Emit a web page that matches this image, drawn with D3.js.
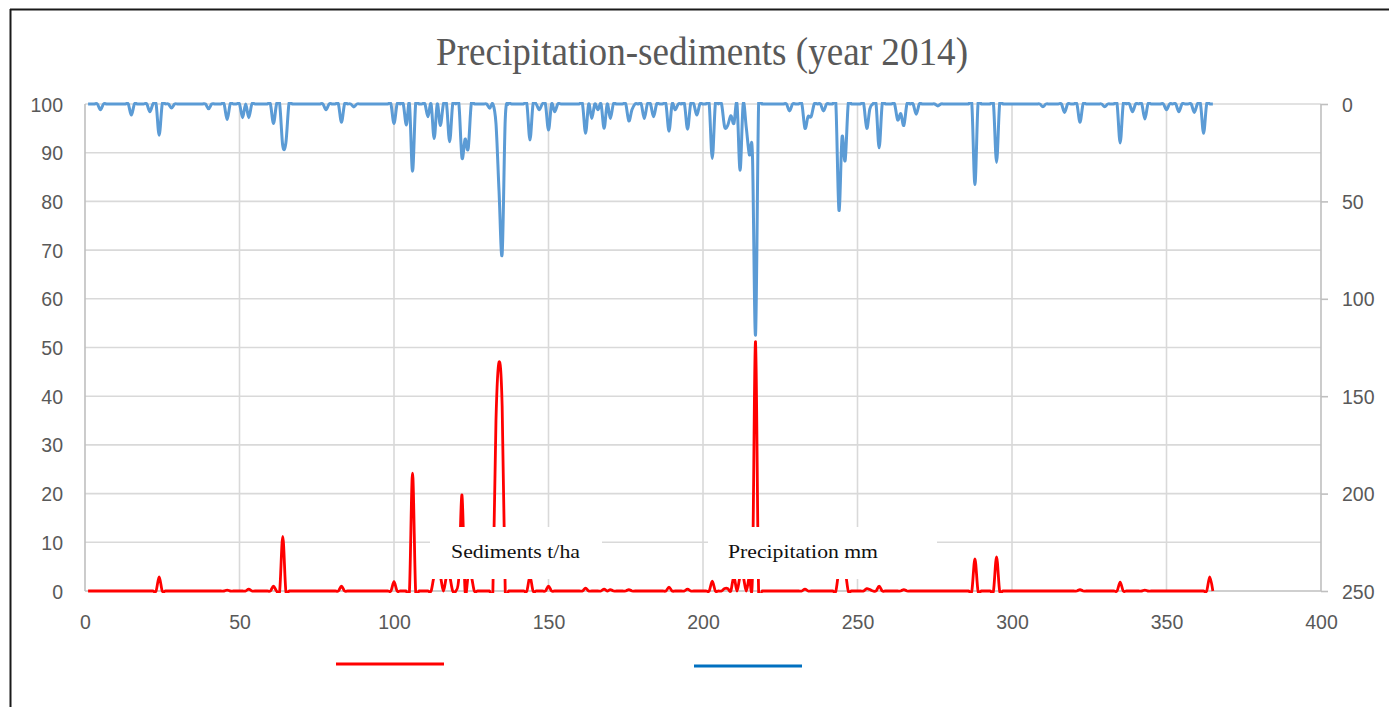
<!DOCTYPE html>
<html><head><meta charset="utf-8">
<script src="https://cdn.jsdelivr.net/npm/d3@7"></script>
<style>body{margin:0;background:#fff;} svg{display:block;}</style>
</head><body>
<svg id="chart" width="1389" height="707"></svg>
<script>
const chartTitle = "Precipitation-sediments  (year 2014)";
const seriesNames = ["Sediments t/ha", "Precipitation mm"];
const xTicks = [0, 50, 100, 150, 200, 250, 300, 350, 400];
const leftTicks = [0, 10, 20, 30, 40, 50, 60, 70, 80, 90, 100];
const rightTicks = [0, 50, 100, 150, 200, 250];
const firstDay = 1, lastDay = 365;

// sediments (t/ha), left axis — non-zero days only
const sedDays   = [24, 46, 53, 61, 64, 83, 100, 106, 113, 114, 115, 117, 118, 121, 122, 124, 125, 133, 134, 135, 144, 150, 162, 168, 170, 176, 189, 195, 203, 207, 208, 210, 212, 213, 215, 216, 217, 233, 244, 245, 246, 253, 254, 257, 265, 288, 295, 322, 335, 343, 364];
const sedValues = [2.9, 0.2, 0.4, 1, 11.2, 1, 1.9, 24.2, 3, 3, 3, 3, 3, 3, 19.7, 3, 3, 35, 47, 38, 3, 1, 0.6, 0.4, 0.3, 0.3, 0.8, 0.4, 2, 0.5, 0.5, 3, 3, 3, 3, 3, 51.2, 0.4, 4, 3, 4, 0.5, 0.3, 1, 0.3, 6.6, 7, 0.3, 1.8, 0.2, 2.9];

// precipitation (mm), right inverted axis — non-zero days only
const precDays   = [5, 15, 21, 24, 28, 40, 46, 51, 53, 61, 64, 65, 78, 83, 87, 100, 104, 106, 111, 113, 115, 118, 122, 123, 124, 131, 133, 134, 135, 136, 144, 147, 150, 152, 162, 164, 166, 168, 170, 176, 177, 181, 184, 189, 191, 195, 198, 203, 207, 208, 209, 210, 212, 214, 215, 216, 217, 228, 233, 234, 235, 239, 244, 245, 246, 253, 254, 257, 263, 264, 265, 269, 276, 288, 295, 310, 317, 322, 330, 335, 339, 343, 350, 354, 359, 362];
const precValues = [3, 5.7, 4, 16, 2, 2.5, 8, 7, 7, 10, 21.5, 20, 3, 9.4, 1.5, 10, 10.8, 34.5, 6.5, 17.7, 11, 19.4, 27.6, 18, 23, 2.2, 10, 45, 77, 8, 18.5, 3, 13.4, 4, 15, 7.4, 3, 12.5, 7.4, 8.7, 3, 7.4, 6.5, 14, 3, 12.9, 5.7, 28, 11.7, 11, 6, 10, 34, 12, 26, 26, 118.5, 3.6, 12.5, 6.5, 6.5, 3.6, 54.5, 17, 29, 12.5, 2.5, 22.5, 8.2, 5, 11, 5.3, 1, 41.3, 30, 1.4, 4.3, 9.4, 1.4, 20, 4, 7.7, 3, 4, 4.3, 15];

const days = d3.range(firstDay, lastDay + 1);
const sedMap = new Map(sedDays.map((d, i) => [d, sedValues[i]]));
const precMap = new Map(precDays.map((d, i) => [d, precValues[i]]));
const sedSeries = days.map(d => ({day: d, v: sedMap.get(d) || 0}));
const precSeries = days.map(d => ({day: d, v: precMap.get(d) || 0}));

const svg = d3.select("#chart");
const L = 85, R = 1321, T = 104, B = 591;
const x = d3.scaleLinear().domain([0, 400]).range([L, R]);
const yL = d3.scaleLinear().domain([0, 100]).range([B, T]);
const yR = d3.scaleLinear().domain([0, 250]).range([T, B]);

const gray = "#595959", grid = "#d9d9d9", axisCol = "#bfbfbf";
const sans = "'Liberation Sans', Arial, sans-serif";
const serif = "'Liberation Serif', 'Times New Roman', serif";

// frame
svg.append("line").attr("x1", 10).attr("x2", 1389).attr("y1", 9.5).attr("y2", 9.5).attr("stroke", "#1a1a1a").attr("stroke-width", 2);
svg.append("line").attr("x1", 10.5).attr("x2", 10.5).attr("y1", 9).attr("y2", 707).attr("stroke", "#1a1a1a").attr("stroke-width", 2);

// title
svg.append("text").attr("x", 702).attr("y", 65).attr("text-anchor", "middle")
  .attr("font-family", serif).attr("font-size", 39).attr("fill", gray)
  .attr("textLength", 532).attr("lengthAdjust", "spacingAndGlyphs")
  .text(chartTitle);

// gridlines
svg.append("g").selectAll("line").data(leftTicks).join("line")
  .attr("x1", L).attr("x2", R).attr("y1", d => yL(d)).attr("y2", d => yL(d))
  .attr("stroke", d => d === 0 ? axisCol : grid).attr("stroke-width", 1.6);
svg.append("g").selectAll("line").data(xTicks).join("line")
  .attr("x1", d => x(d)).attr("x2", d => x(d)).attr("y1", T).attr("y2", B)
  .attr("stroke", d => (d === 0 || d === 400) ? axisCol : grid).attr("stroke-width", 1.6);

// axes
const axL = svg.append("g").attr("transform", `translate(${L},0)`)
  .call(d3.axisLeft(yL).tickValues(leftTicks).tickSize(0).tickPadding(22));
const axR = svg.append("g").attr("transform", `translate(${R},0)`)
  .call(d3.axisRight(yR).tickValues(rightTicks).tickSize(7).tickPadding(14));
const axB = svg.append("g").attr("transform", `translate(0,${B})`)
  .call(d3.axisBottom(x).tickValues(xTicks).tickSize(0).tickPadding(24));
[axL, axR, axB].forEach(a => {
  a.select(".domain").remove();
  a.selectAll("text").attr("font-family", sans).attr("font-size", 19.5).attr("fill", gray);
  a.selectAll("line").attr("stroke", axisCol).attr("stroke-width", 1.6);
});
axL.selectAll("text").attr("dy", "0.36em");
axR.selectAll("text").attr("dy", "0.36em");

// clip
svg.append("clipPath").attr("id", "plotclip").append("rect")
  .attr("x", L - 2).attr("y", T - 2).attr("width", R - L + 4).attr("height", B - T + 4);

const sedLine = d3.line().x(d => x(d.day)).y(d => yL(d.v)).curve(d3.curveCardinal);
const precLine = d3.line().x(d => x(d.day)).y(d => yR(d.v)).curve(d3.curveCardinal);

const plot = svg.append("g").attr("clip-path", "url(#plotclip)");
plot.append("path").datum(precSeries).attr("d", precLine)
  .attr("fill", "none").attr("stroke", "#5b9bd5").attr("stroke-width", 3).attr("stroke-linejoin", "round");
plot.append("path").datum(sedSeries).attr("d", sedLine)
  .attr("fill", "none").attr("stroke", "#ff0000").attr("stroke-width", 2.8).attr("stroke-linejoin", "round");

// series label boxes
const labels = [
  {name: seriesNames[0], x0: 430, x1: 602, tx: 451, tw: 129},
  {name: seriesNames[1], x0: 708, x1: 937, tx: 728, tw: 150}
];
labels.forEach(l => {
  svg.append("rect").attr("x", l.x0).attr("y", 527).attr("width", l.x1 - l.x0).attr("height", 52).attr("fill", "#fff");
  svg.append("text").attr("x", l.tx).attr("y", 558).attr("font-family", serif).attr("font-size", 19)
    .attr("fill", "#111").attr("textLength", l.tw).attr("lengthAdjust", "spacingAndGlyphs").text(l.name);
});

// legend lines
svg.append("line").attr("x1", 336).attr("x2", 444).attr("y1", 664).attr("y2", 664).attr("stroke", "#ff0000").attr("stroke-width", 3);
svg.append("line").attr("x1", 694).attr("x2", 802).attr("y1", 666).attr("y2", 666).attr("stroke", "#0070c0").attr("stroke-width", 3);
</script>
</body></html>
